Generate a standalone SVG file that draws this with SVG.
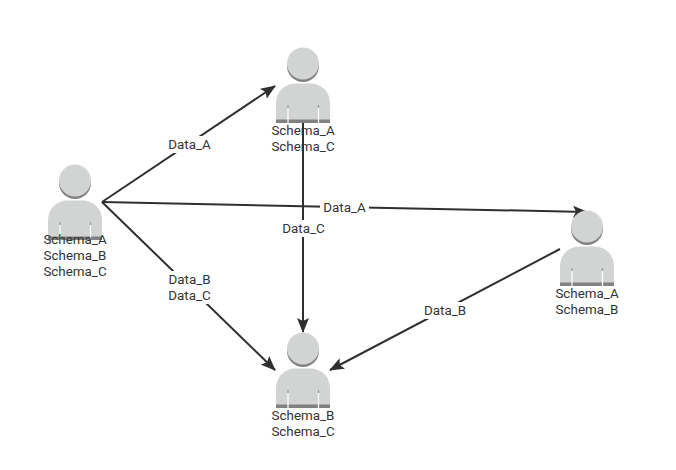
<svg xmlns="http://www.w3.org/2000/svg" xmlns:xlink="http://www.w3.org/1999/xlink" width="676" height="470" viewBox="0 0 676 470">
<style>
text{font-family:Roboto,"Open Sans","DejaVu Sans",sans-serif;font-size:13.400px;fill:#333;text-anchor:middle}
.e{fill:none;stroke:#2f2f2f;stroke-width:2;marker-end:url(#a)}
.lb{fill:#fff}
.b{fill:#d2d3d3}.s{fill:#818181}
</style>
<defs>
<marker id="a" markerUnits="userSpaceOnUse" markerWidth="16" markerHeight="13" refX="14" refY="6.500" orient="auto"><path d="M0 0.500L15 6.500L0 12.500L3 6.500Z" fill="#2f2f2f"/></marker>
<symbol id="p" width="54" height="76" viewBox="0 0 54 76" overflow="visible">
<circle class="s" cx="27" cy="18" r="16"/>
<circle class="b" cx="27" cy="15.500" r="16"/>
<path class="b" d="M0 72V56C0 43 9 35.500 20 35.500H34C45 35.500 54 43 54 56V72Z"/>
<rect class="s" y="71.500" width="54" height="3.500"/>
<path d="M12 57v3M42.500 57v3" stroke="#999" stroke-width="1.200" fill="none"/>
<path d="M12 60v15M42.500 60v15" stroke="#fff" stroke-width="1.200" fill="none"/>
</symbol>
</defs>
<rect width="676" height="470" fill="#fff"/>
<g id="connectors">
<path class="e" d="M102 202L275 86"/>
<path class="e" d="M102 202L587 212"/>
<path class="e" d="M102 202L275 370"/>
<path class="e" d="M303 122L303 332"/>
<path class="e" d="M560 249L330 370"/>
<rect class="lb" x="165" y="136" width="49" height="17"/>
<rect class="lb" x="320" y="199" width="49" height="17"/>
<rect class="lb" x="279" y="220" width="49" height="17"/>
<rect class="lb" x="165" y="271" width="49" height="33"/>
<rect class="lb" x="421" y="302" width="49" height="17"/>
<text x="189.500" y="149">Data_A</text>
<text x="344.500" y="212">Data_A</text>
<text x="303.500" y="233">Data_C</text>
<text x="189.500" y="284">Data_B</text>
<text x="189.500" y="300">Data_C</text>
<text x="445" y="315">Data_B</text>
</g>
<g id="node-1"><use xlink:href="#p" href="#p" x="48" y="165"/>
<text x="75" y="244">Schema_A</text><text x="75" y="260">Schema_B</text><text x="75" y="276">Schema_C</text></g>
<g id="node-2"><use xlink:href="#p" href="#p" x="276" y="48"/>
<text x="303" y="135">Schema_A</text><text x="303" y="151">Schema_C</text></g>
<g id="node-3"><use xlink:href="#p" href="#p" x="560" y="211"/>
<text x="587" y="298">Schema_A</text><text x="587" y="314">Schema_B</text></g>
<g id="node-4"><use xlink:href="#p" href="#p" x="276" y="333"/>
<text x="303" y="420">Schema_B</text><text x="303" y="436">Schema_C</text></g>
</svg>
